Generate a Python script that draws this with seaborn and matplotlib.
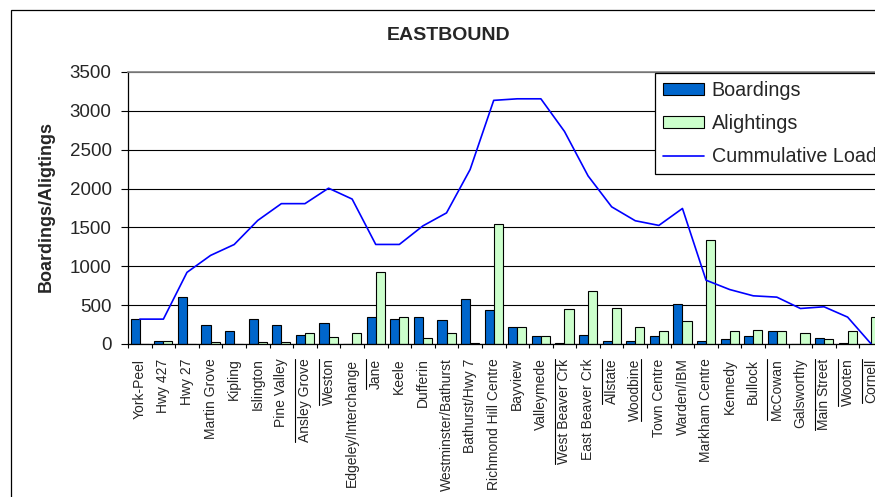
import numpy as np
import pandas as pd
import matplotlib
matplotlib.use("Agg")
import matplotlib.pyplot as plt
import seaborn as sns
from matplotlib.patches import Patch, Rectangle
from matplotlib.lines import Line2D
from matplotlib.transforms import IdentityTransform

stops = ['York-Peel', 'Hwy 427', 'Hwy 27', 'Martin Grove', 'Kipling', 'Islington',
         'Pine Valley', 'Ansley Grove', 'Weston', 'Edgeley/Interchange', 'Jane',
         'Keele', 'Dufferin', 'Westminster/Bathurst', 'Bathurst/Hwy 7',
         'Richmond Hill Centre', 'Bayview', 'Valleymede', 'West Beaver Crk',
         'East Beaver Crk', 'Allstate', 'Woodbine', 'Town Centre', 'Warden/IBM',
         'Markham Centre', 'Kennedy', 'Bullock', 'McCowan', 'Galsworthy',
         'Main Street', 'Wooten', 'Cornell']

boardings = [318, 40, 600, 242, 161, 318, 242, 120, 276, 0, 342, 320, 342, 303, 581,
             442, 218, 98, 17, 120, 38, 38, 98, 521, 38, 60, 98, 162, 0, 81, 17, 0]

alightings = [0, 40, 0, 25, 0, 25, 22, 140, 84, 140, 922, 342, 81, 141, 17,
              1543, 218, 98, 444, 684, 457, 218, 162, 299, 1341, 162, 184, 162, 141, 60, 162, 342]

load = [320, 320, 922, 1140, 1280, 1590, 1806, 1806, 2005, 1865, 1281, 1281, 1520, 1687,
        2245, 3135, 3155, 3155, 2735, 2163, 1765, 1586, 1526, 1744, 821, 701, 620, 603,
        457, 479, 346, 0]

# labels in the source that carry a stray over/underline
over_lined = ['Ansley Grove', 'Weston', 'Jane', 'West Beaver Crk', 'Allstate',
              'McCowan', 'Main Street', 'Wooten', 'Cornell']
under_lined = ['Woodbine']

blue = '#0066CC'
green = '#CCFFCC'

df = pd.DataFrame({
    'stop': stops * 2,
    'value': boardings + alightings,
    'type': ['Boardings'] * len(stops) + ['Alightings'] * len(stops),
})

sns.set_theme(style='white')
plt.rcParams['font.family'] = ['Liberation Sans', 'DejaVu Sans']

fig = plt.figure(figsize=(8.75, 4.97), dpi=100)
ax = fig.add_axes([128 / 875, 153 / 497, 755 / 875, 272 / 497])

sns.barplot(data=df, x='stop', y='value', hue='type', order=stops,
            palette={'Boardings': blue, 'Alightings': green}, width=0.77,
            edgecolor='black', linewidth=0.8, saturation=1, legend=False, ax=ax)
sns.lineplot(x=np.arange(len(stops)), y=load, color='#0000FF', linewidth=1.2, ax=ax)

ax.set_xlim(-0.5, len(stops) - 0.5)
ax.set_ylim(0, 3500)
ax.set_yticks(np.arange(0, 3501, 500))
ax.yaxis.grid(True, color='black', linewidth=0.8)
ax.set_axisbelow(True)
ax.set_xlabel('')
ax.set_ylabel('')

ax.set_xticks(np.arange(len(stops)))
ax.set_xticklabels(stops, rotation=90, fontsize=10)
ax.set_xticks(np.arange(-0.5, len(stops)), minor=True)
ax.tick_params(axis='x', which='major', length=0, pad=10.5)
ax.tick_params(axis='x', which='minor', bottom=True, length=3.2, width=0.8, color='black', direction='out')
ax.tick_params(axis='y', left=True, length=4.8, width=0.8, color='black', pad=7, labelsize=13.5)

for s in ['left', 'bottom']:
    ax.spines[s].set_color('black')
    ax.spines[s].set_linewidth(0.9)
ax.spines['top'].set_color('#888888')
ax.spines['right'].set_color('#888888')

fig.text(449 / 875, 1 - 36 / 497, 'EASTBOUND', fontsize=14, fontweight='bold',
         ha='center', va='center')
fig.text(46 / 875, 1 - 206 / 497, 'Boardings/Aligtings', fontsize=13, fontweight='bold',
         rotation=90, ha='center', va='center')

handles = [Patch(facecolor=blue, edgecolor='black', linewidth=0.8),
           Patch(facecolor=green, edgecolor='black', linewidth=0.8),
           Line2D([], [], color='#0000FF', linewidth=1.2)]
leg = fig.legend(handles, ['Boardings', 'Alightings', 'Cummulative Load'],
                 loc='upper left', bbox_to_anchor=(655 / 875, 1 - 73 / 497),
                 borderaxespad=0, fontsize=14.2, frameon=True, fancybox=False,
                 framealpha=1, edgecolor='black', borderpad=0.4, labelspacing=0.72,
                 handlelength=2.1, handleheight=0.52, handletextpad=0.38)
leg.get_frame().set_linewidth(0.9)

# outer chart border
fig.add_artist(Rectangle((11 / 875, -0.1), 2.0, 1.1 - 10 / 497, transform=fig.transFigure,
                         fill=False, edgecolor='black', linewidth=0.9))

fig.canvas.draw()
renderer = fig.canvas.get_renderer()
for lab in ax.get_xticklabels():
    t = lab.get_text()
    if t in over_lined or t in under_lined:
        bb = lab.get_window_extent(renderer)
        x = bb.x0 - 2.5 if t in over_lined else bb.x1 - 1
        fig.add_artist(Line2D([x, x], [bb.y0, bb.y1], transform=IdentityTransform(),
                              color='black', linewidth=0.8))

fig.savefig('out.png', dpi=100)
